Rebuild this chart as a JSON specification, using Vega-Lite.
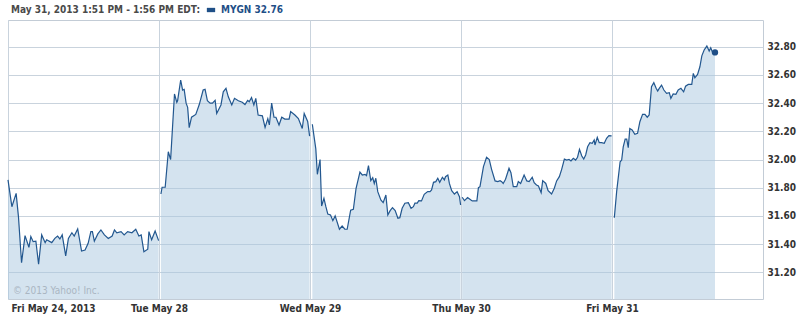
{
  "$schema": "https://vega.github.io/schema/vega-lite/v6.json",
  "width": 755,
  "height": 279,
  "autosize": "none",
  "padding": {"left": 8, "top": 20, "right": 34, "bottom": 17},
  "background": "white",
  "config": {"view": {"stroke": "#c3ccd6", "strokeWidth": 1}, "font": "DejaVu Sans Condensed"},
  "data": {"values": [
    {"d":1,"t":0,"v":31.855},{"d":1,"t":10,"v":31.665},{"d":1,"t":21,"v":31.76},{"d":1,"t":27,"v":31.595},{"d":1,"t":35,"v":31.268},{"d":1,"t":44,"v":31.46},{"d":1,"t":54,"v":31.377},{"d":1,"t":59,"v":31.453},{"d":1,"t":65,"v":31.417},{"d":1,"t":72,"v":31.42},{"d":1,"t":79,"v":31.257},{"d":1,"t":87,"v":31.465},{"d":1,"t":96,"v":31.41},{"d":1,"t":100,"v":31.43},{"d":1,"t":113,"v":31.41},{"d":1,"t":121,"v":31.44},{"d":1,"t":128,"v":31.457},{"d":1,"t":134,"v":31.436},{"d":1,"t":140,"v":31.465},{"d":1,"t":149,"v":31.316},{"d":1,"t":156,"v":31.44},{"d":1,"t":165,"v":31.48},{"d":1,"t":171,"v":31.457},{"d":1,"t":180,"v":31.507},{"d":1,"t":190,"v":31.35},{"d":1,"t":199,"v":31.358},{"d":1,"t":207,"v":31.405},{"d":1,"t":214,"v":31.488},{"d":1,"t":218,"v":31.488},{"d":1,"t":223,"v":31.42},{"d":1,"t":232,"v":31.472},{"d":1,"t":240,"v":31.5},{"d":1,"t":249,"v":31.465},{"d":1,"t":259,"v":31.44},{"d":1,"t":269,"v":31.457},{"d":1,"t":275,"v":31.5},{"d":1,"t":281,"v":31.48},{"d":1,"t":292,"v":31.488},{"d":1,"t":300,"v":31.465},{"d":1,"t":309,"v":31.488},{"d":1,"t":320,"v":31.48},{"d":1,"t":330,"v":31.505},{"d":1,"t":338,"v":31.457},{"d":1,"t":344,"v":31.465},{"d":1,"t":351,"v":31.346},{"d":1,"t":361,"v":31.363},{"d":1,"t":364,"v":31.488},{"d":1,"t":371,"v":31.43},{"d":1,"t":380,"v":31.493},{"d":1,"t":389,"v":31.424},
    {"d":2,"t":395,"v":31.755},{"d":2,"t":398,"v":31.803},{"d":2,"t":406,"v":31.803},{"d":2,"t":414,"v":32.055},{"d":2,"t":420,"v":32.0},{"d":2,"t":430,"v":32.465},{"d":2,"t":436,"v":32.406},{"d":2,"t":438,"v":32.417},{"d":2,"t":446,"v":32.564},{"d":2,"t":451,"v":32.493},{"d":2,"t":455,"v":32.498},{"d":2,"t":460,"v":32.4},{"d":2,"t":464,"v":32.37},{"d":2,"t":468,"v":32.226},{"d":2,"t":474,"v":32.3},{"d":2,"t":485,"v":32.32},{"d":2,"t":494,"v":32.39},{"d":2,"t":504,"v":32.493},{"d":2,"t":509,"v":32.498},{"d":2,"t":515,"v":32.417},{"d":2,"t":522,"v":32.4},{"d":2,"t":528,"v":32.4},{"d":2,"t":535,"v":32.42},{"d":2,"t":539,"v":32.327},{"d":2,"t":550,"v":32.387},{"d":2,"t":556,"v":32.48},{"d":2,"t":563,"v":32.505},{"d":2,"t":569,"v":32.445},{"d":2,"t":578,"v":32.387},{"d":2,"t":585,"v":32.434},{"d":2,"t":595,"v":32.417},{"d":2,"t":605,"v":32.406},{"d":2,"t":612,"v":32.39},{"d":2,"t":619,"v":32.42},{"d":2,"t":623,"v":32.41},{"d":2,"t":629,"v":32.44},{"d":2,"t":635,"v":32.387},{"d":2,"t":640,"v":32.434},{"d":2,"t":646,"v":32.316},{"d":2,"t":657,"v":32.31},{"d":2,"t":664,"v":32.228},{"d":2,"t":671,"v":32.29},{"d":2,"t":675,"v":32.245},{"d":2,"t":681,"v":32.4},{"d":2,"t":687,"v":32.3},{"d":2,"t":692,"v":32.3},{"d":2,"t":700,"v":32.245},{"d":2,"t":707,"v":32.3},{"d":2,"t":715,"v":32.287},{"d":2,"t":726,"v":32.287},{"d":2,"t":730,"v":32.34},{"d":2,"t":741,"v":32.316},{"d":2,"t":750,"v":32.29},{"d":2,"t":760,"v":32.22},{"d":2,"t":765,"v":32.327},{"d":2,"t":774,"v":32.27},{"d":2,"t":779,"v":32.166},
    {"d":3,"t":786,"v":32.25},{"d":3,"t":795,"v":32.075},{"d":3,"t":799,"v":31.895},{"d":3,"t":806,"v":32.0},{"d":3,"t":810,"v":31.67},{"d":3,"t":816,"v":31.725},{"d":3,"t":821,"v":31.665},{"d":3,"t":826,"v":31.613},{"d":3,"t":833,"v":31.606},{"d":3,"t":839,"v":31.566},{"d":3,"t":845,"v":31.6},{"d":3,"t":856,"v":31.505},{"d":3,"t":863,"v":31.528},{"d":3,"t":870,"v":31.505},{"d":3,"t":876,"v":31.505},{"d":3,"t":885,"v":31.64},{"d":3,"t":892,"v":31.647},{"d":3,"t":899,"v":31.796},{"d":3,"t":909,"v":31.91},{"d":3,"t":915,"v":31.89},{"d":3,"t":922,"v":31.895},{"d":3,"t":926,"v":31.885},{"d":3,"t":931,"v":31.956},{"d":3,"t":937,"v":31.85},{"d":3,"t":942,"v":31.871},{"d":3,"t":946,"v":31.83},{"d":3,"t":950,"v":31.867},{"d":3,"t":955,"v":31.772},{"d":3,"t":963,"v":31.713},{"d":3,"t":969,"v":31.694},{"d":3,"t":976,"v":31.748},{"d":3,"t":981,"v":31.606},{"d":3,"t":987,"v":31.637},{"d":3,"t":993,"v":31.658},{"d":3,"t":1000,"v":31.637},{"d":3,"t":1007,"v":31.583},{"d":3,"t":1012,"v":31.587},{"d":3,"t":1018,"v":31.654},{"d":3,"t":1025,"v":31.69},{"d":3,"t":1034,"v":31.694},{"d":3,"t":1041,"v":31.654},{"d":3,"t":1047,"v":31.665},{"d":3,"t":1051,"v":31.69},{"d":3,"t":1057,"v":31.69},{"d":3,"t":1061,"v":31.708},{"d":3,"t":1068,"v":31.706},{"d":3,"t":1075,"v":31.753},{"d":3,"t":1084,"v":31.772},{"d":3,"t":1090,"v":31.772},{"d":3,"t":1094,"v":31.784},{"d":3,"t":1099,"v":31.838},{"d":3,"t":1105,"v":31.843},{"d":3,"t":1110,"v":31.867},{"d":3,"t":1115,"v":31.838},{"d":3,"t":1122,"v":31.874},{"d":3,"t":1127,"v":31.855},{"d":3,"t":1130,"v":31.878},{"d":3,"t":1136,"v":31.89},{"d":3,"t":1140,"v":31.83},{"d":3,"t":1146,"v":31.779},{"d":3,"t":1153,"v":31.755},{"d":3,"t":1160,"v":31.772},{"d":3,"t":1166,"v":31.736},{"d":3,"t":1169,"v":31.677},
    {"d":4,"t":1173,"v":31.732},{"d":4,"t":1179,"v":31.708},{"d":4,"t":1187,"v":31.73},{"d":4,"t":1193,"v":31.718},{"d":4,"t":1199,"v":31.706},{"d":4,"t":1211,"v":31.706},{"d":4,"t":1215,"v":31.8},{"d":4,"t":1219,"v":31.807},{"d":4,"t":1228,"v":31.949},{"d":4,"t":1236,"v":32.016},{"d":4,"t":1243,"v":32.0},{"d":4,"t":1249,"v":31.93},{"d":4,"t":1258,"v":31.848},{"d":4,"t":1265,"v":31.843},{"d":4,"t":1271,"v":31.85},{"d":4,"t":1275,"v":31.843},{"d":4,"t":1279,"v":31.83},{"d":4,"t":1285,"v":31.86},{"d":4,"t":1294,"v":31.938},{"d":4,"t":1299,"v":31.906},{"d":4,"t":1305,"v":31.807},{"d":4,"t":1314,"v":31.807},{"d":4,"t":1318,"v":31.843},{"d":4,"t":1324,"v":31.83},{"d":4,"t":1333,"v":31.89},{"d":4,"t":1340,"v":31.848},{"d":4,"t":1346,"v":31.843},{"d":4,"t":1354,"v":31.874},{"d":4,"t":1359,"v":31.835},{"d":4,"t":1365,"v":31.819},{"d":4,"t":1370,"v":31.812},{"d":4,"t":1377,"v":31.765},{"d":4,"t":1381,"v":31.85},{"d":4,"t":1389,"v":31.83},{"d":4,"t":1395,"v":31.779},{"d":4,"t":1404,"v":31.755},{"d":4,"t":1411,"v":31.796},{"d":4,"t":1417,"v":31.848},{"d":4,"t":1424,"v":31.878},{"d":4,"t":1430,"v":31.93},{"d":4,"t":1437,"v":32.003},{"d":4,"t":1443,"v":31.996},{"d":4,"t":1449,"v":32.0},{"d":4,"t":1454,"v":31.99},{"d":4,"t":1460,"v":32.008},{"d":4,"t":1466,"v":31.996},{"d":4,"t":1471,"v":32.016},{"d":4,"t":1476,"v":32.072},{"d":4,"t":1482,"v":32.025},{"d":4,"t":1487,"v":32.003},{"d":4,"t":1492,"v":32.032},{"d":4,"t":1497,"v":32.09},{"d":4,"t":1503,"v":32.12},{"d":4,"t":1509,"v":32.115},{"d":4,"t":1514,"v":32.138},{"d":4,"t":1516,"v":32.103},{"d":4,"t":1522,"v":32.157},{"d":4,"t":1527,"v":32.12},{"d":4,"t":1533,"v":32.12},{"d":4,"t":1540,"v":32.115},{"d":4,"t":1546,"v":32.15},{"d":4,"t":1552,"v":32.169},{"d":4,"t":1559,"v":32.167},
    {"d":5,"t":1566,"v":31.587},{"d":5,"t":1572,"v":31.772},{"d":5,"t":1581,"v":31.984},{"d":5,"t":1585,"v":31.996},{"d":5,"t":1589,"v":32.09},{"d":5,"t":1594,"v":32.145},{"d":5,"t":1598,"v":32.145},{"d":5,"t":1602,"v":32.084},{"d":5,"t":1606,"v":32.22},{"d":5,"t":1612,"v":32.21},{"d":5,"t":1619,"v":32.179},{"d":5,"t":1626,"v":32.186},{"d":5,"t":1632,"v":32.268},{"d":5,"t":1639,"v":32.32},{"d":5,"t":1645,"v":32.32},{"d":5,"t":1651,"v":32.3},{"d":5,"t":1656,"v":32.316},{"d":5,"t":1662,"v":32.516},{"d":5,"t":1668,"v":32.545},{"d":5,"t":1674,"v":32.505},{"d":5,"t":1678,"v":32.486},{"d":5,"t":1682,"v":32.505},{"d":5,"t":1688,"v":32.528},{"d":5,"t":1694,"v":32.493},{"d":5,"t":1701,"v":32.47},{"d":5,"t":1708,"v":32.474},{"d":5,"t":1712,"v":32.434},{"d":5,"t":1718,"v":32.465},{"d":5,"t":1725,"v":32.462},{"d":5,"t":1731,"v":32.493},{"d":5,"t":1738,"v":32.505},{"d":5,"t":1745,"v":32.48},{"d":5,"t":1750,"v":32.52},{"d":5,"t":1757,"v":32.533},{"d":5,"t":1766,"v":32.533},{"d":5,"t":1770,"v":32.611},{"d":5,"t":1774,"v":32.58},{"d":5,"t":1781,"v":32.604},{"d":5,"t":1787,"v":32.658},{"d":5,"t":1792,"v":32.736},{"d":5,"t":1798,"v":32.777},{"d":5,"t":1805,"v":32.805},{"d":5,"t":1811,"v":32.77},{"d":5,"t":1815,"v":32.793},{"d":5,"t":1819,"v":32.765},{"d":5,"t":1826,"v":32.76}
  ]},
  "encoding": {
    "x": {"field": "t", "type": "quantitative", "scale": {"domain": [0, 1950], "nice": false, "zero": false},
      "axis": {"values": [0, 390, 780, 1170, 1560], "labelExpr": "['Fri May 24, 2013','Tue May 28','Wed May 29','Thu May 30','Fri May 31'][round(datum.value/390)]", "grid": true, "gridColor": "#c9d3dd", "tickSize": 0, "domain": false, "labelFlush": true, "labelFlushOffset": -3, "labelPadding": 4, "labelBaseline": "top", "labelFont": "DejaVu Sans Condensed", "labelFontSize": 10, "labelFontWeight": "bold", "labelColor": "#333333", "title": null}},
    "y": {"field": "v", "type": "quantitative", "scale": {"domain": [31.01, 32.99], "nice": false, "zero": false},
      "axis": {"orient": "right", "values": [31.2, 31.4, 31.6, 31.8, 32.0, 32.2, 32.4, 32.6, 32.8], "format": ".2f", "grid": true, "gridColor": "#c9d3dd", "tickSize": 0, "domain": false, "labelPadding": 4, "labelFont": "DejaVu Sans Condensed", "labelFontSize": 10, "labelFontWeight": "bold", "labelColor": "#333333", "title": null}}
  },
  "layer": [
    {"mark": {"type": "area", "fill": "#a9c7e0", "fillOpacity": 0.5}, "encoding": {"y2": {"datum": 31.01}, "detail": {"field": "d"}}},
    {"mark": {"type": "line", "color": "#22578f", "strokeWidth": 1.2}, "encoding": {"detail": {"field": "d"}}},
    {"transform": [{"filter": "datum.t == 1826"}], "mark": {"type": "point", "filled": true, "size": 40, "opacity": 1},
      "encoding": {"color": {"datum": "MYGN 32.76", "scale": {"range": ["#1f4f87"]},
        "legend": {"orient": "none", "legendX": 3, "legendY": -15, "title": "May 31, 2013 1:51 PM - 1:56 PM EDT:", "titleOrient": "left", "titlePadding": 6, "titleLimit": 400, "titleFont": "DejaVu Sans Condensed", "titleFontSize": 10, "titleFontWeight": "bold", "titleColor": "#4a4a4a", "titleBaseline": "middle", "symbolType": "M-1,-0.52H1V0.52H-1Z", "symbolSize": 69, "labelFont": "DejaVu Sans Condensed", "labelFontSize": 10, "labelFontWeight": "bold", "labelColor": "#1f4f87", "labelOffset": 5, "padding": 0}}}},
    {"transform": [{"filter": "datum.t == 0"}], "mark": {"type": "text", "align": "left", "baseline": "middle", "dx": 5, "font": "DejaVu Sans Condensed", "fontSize": 10, "color": "#aab6c2", "text": "© 2013 Yahoo! Inc."},
      "encoding": {"x": {"datum": 0}, "y": {"datum": 31.067}}}
  ]
}
